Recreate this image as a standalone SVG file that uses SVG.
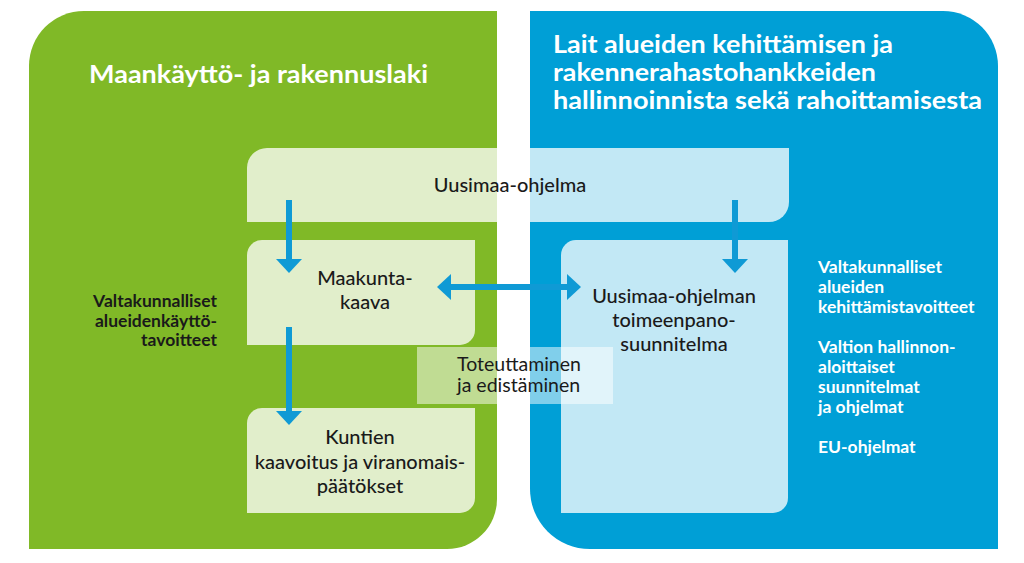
<svg xmlns="http://www.w3.org/2000/svg" width="1024" height="563" viewBox="0 0 1024 563">
<style>
text{font-family:Lato,"Open Sans","Liberation Sans",sans-serif}
.title{fill:#fff;font-size:24px;font-weight:bold}
.lbl{fill:#1a1a1a;font-size:20px;font-weight:500;text-anchor:middle}
.side{font-size:17.5px;font-weight:bold}
.veil{fill:#fff;fill-opacity:0.76}
.conn{stroke:#0f9ad5;stroke-width:6;fill:none}
</style>
<defs>
<marker id="ah" viewBox="0 0 14 26" refX="4" refY="13" markerWidth="14" markerHeight="26" markerUnits="userSpaceOnUse" orient="auto-start-reverse">
<path d="M0,0 L14,13 L0,26 Z" fill="#0f9ad5"/>
</marker>
</defs>
<rect width="1024" height="563" fill="#fff"/>
<g id="panel-mrl">
<path d="M84,11 H497 V499 A50,50 0 0 1 447,549 H29 V66 A55,55 0 0 1 84,11 Z" fill="#80b927"/>
<text class="title" x="89" y="83" textLength="339" lengthAdjust="spacingAndGlyphs">Maankäyttö- ja rakennuslaki</text>
<text class="side" fill="#1a1a1a" text-anchor="end"><tspan x="217" y="307">Valtakunnalliset</tspan><tspan x="217" y="327">alueidenkäyttö-</tspan><tspan x="217" y="346">tavoitteet</tspan></text>
</g>
<g id="panel-laws">
<path d="M530,11 H943 A55,55 0 0 1 998,66 V549 H590 A60,60 0 0 1 530,489 Z" fill="#009fd6"/>
<text class="title"><tspan x="553" y="53" textLength="340" lengthAdjust="spacingAndGlyphs">Lait alueiden kehittämisen ja</tspan><tspan x="553" y="81" textLength="323" lengthAdjust="spacingAndGlyphs">rakennerahastohankkeiden</tspan><tspan x="553" y="109" textLength="429" lengthAdjust="spacingAndGlyphs">hallinnoinnista sekä rahoittamisesta</tspan></text>
<text class="side" fill="#fff"><tspan x="818" y="273">Valtakunnalliset</tspan><tspan x="818" y="293">alueiden</tspan><tspan x="818" y="313">kehittämistavoitteet</tspan><tspan x="818" y="353">Valtion hallinnon-</tspan><tspan x="818" y="373">aloittaiset</tspan><tspan x="818" y="393">suunnitelmat</tspan><tspan x="818" y="413">ja ohjelmat</tspan><tspan x="818" y="453">EU-ohjelmat</tspan></text>
</g>
<g id="uusimaa-ohjelma">
<path class="veil" d="M267,148 H789 V202 A20,20 0 0 1 769,222 H247 V168 A20,20 0 0 1 267,148 Z"/>
<text class="lbl" x="510" y="192">Uusimaa-ohjelma</text>
</g>
<g id="maakuntakaava">
<path class="veil" d="M262,240 H475 V330 A15,15 0 0 1 460,345 H247 V255 A15,15 0 0 1 262,240 Z"/>
<text class="lbl"><tspan x="365" y="285">Maakunta-</tspan><tspan x="365" y="309">kaava</tspan></text>
</g>
<g id="kuntien-kaavoitus">
<path class="veil" d="M262,408 H475 V498 A15,15 0 0 1 460,513 H247 V423 A15,15 0 0 1 262,408 Z"/>
<text class="lbl"><tspan x="360" y="444">Kuntien</tspan><tspan x="360" y="469">kaavoitus ja viranomais-</tspan><tspan x="360" y="493">päätökset</tspan></text>
</g>
<g id="toimeenpanosuunnitelma">
<path class="veil" d="M576,240 H788 V498 A15,15 0 0 1 773,513 H561 V255 A15,15 0 0 1 576,240 Z"/>
<text class="lbl"><tspan x="674" y="303">Uusimaa-ohjelman</tspan><tspan x="674" y="327">toimeenpano-</tspan><tspan x="674" y="351">suunnitelma</tspan></text>
</g>
<g id="connectors">
<line class="conn" x1="289" y1="200" x2="289" y2="263" marker-end="url(#ah)"/>
<line class="conn" x1="735" y1="200" x2="735" y2="263" marker-end="url(#ah)"/>
<line class="conn" x1="289" y1="327" x2="289" y2="415" marker-end="url(#ah)"/>
<line class="conn" x1="447" y1="287" x2="571" y2="287" marker-start="url(#ah)" marker-end="url(#ah)"/>
</g>
<g id="toteuttaminen">
<rect x="417" y="347" width="196" height="57" fill="#fff" fill-opacity="0.5"/>
<text fill="#1a1a1a" font-size="19.5"><tspan x="457" y="371">Toteuttaminen</tspan><tspan x="457" y="392">ja edistäminen</tspan></text>
</g>
</svg>
